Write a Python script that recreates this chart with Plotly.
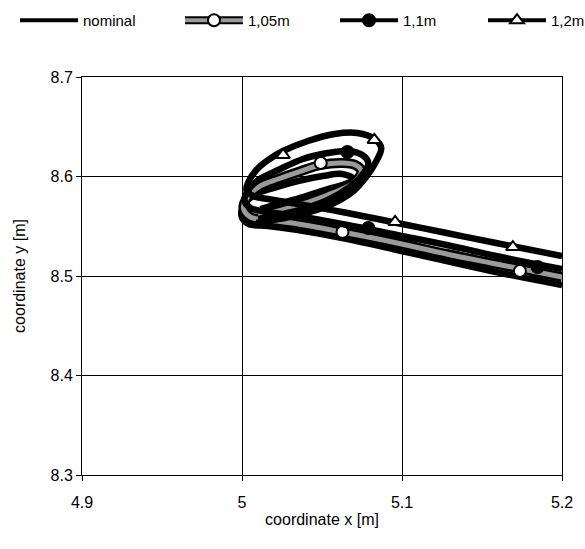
import plotly.graph_objects as go

# Wheel trajectories for different settings (x, y in metres)
nominal_x = [5.2, 5.1588, 5.1279, 5.0969, 5.0659, 5.0350, 5.0164, 5.0040,
             4.9997, 5.0015, 5.0090, 5.0195, 5.0350, 5.0505, 5.0628, 5.0697,
             5.0647, 5.0536, 5.0381, 5.0226, 5.0115]
nominal_y = [8.4910, 8.5040, 8.5151, 8.5261, 8.5372, 8.5462, 8.5503, 8.5523,
             8.5603, 8.5724, 8.5824, 8.5884, 8.5955, 8.6005, 8.6025, 8.5975,
             8.5925, 8.5874, 8.5794, 8.5724, 8.5673]

m105_x = [5.2, 5.1588, 5.1279, 5.0969, 5.0659, 5.0350, 5.0164, 5.0053,
          5.0009, 5.0040, 5.0115, 5.0226, 5.0350, 5.0492, 5.0628, 5.0709, 5.0746,
          5.0703, 5.0641, 5.0536, 5.0381, 5.0226, 5.0102]
m105_y = [8.4990, 8.5121, 8.5221, 8.5332, 8.5432, 8.5523, 8.5563, 8.5593,
          8.5683, 8.5804, 8.5905, 8.5975, 8.6045, 8.6116, 8.6136, 8.6116, 8.6055,
          8.5945, 8.5884, 8.5814, 8.5724, 8.5653, 8.5603]
m105_mark_x = [5.1737, 5.0628, 5.0492]
m105_mark_y = [8.5050, 8.5442, 8.6136]

m11_x = [5.2, 5.1588, 5.1279, 5.0969, 5.0659, 5.0350, 5.0164, 5.0053,
         5.0015, 5.0040, 5.0102, 5.0226, 5.0381, 5.0536, 5.0659, 5.0752, 5.0789,
         5.0752, 5.0672, 5.0536, 5.0381, 5.0226, 5.0102]
m11_y = [8.5070, 8.5201, 8.5312, 8.5412, 8.5513, 8.5603, 8.5643, 8.5683,
         8.5764, 8.5864, 8.5965, 8.6065, 8.6176, 8.6236, 8.6256, 8.6216, 8.6136,
         8.6015, 8.5894, 8.5764, 8.5673, 8.5613, 8.5573]
m11_mark_x = [5.1848, 5.0790, 5.0659]
m11_mark_y = [8.5090, 8.5482, 8.6246]

m12_x = [5.2, 5.1588, 5.1279, 5.0969, 5.0659, 5.0350, 5.0164, 5.0071, 5.0028,
         5.0040, 5.0090, 5.0164, 5.0257, 5.0412, 5.0579, 5.0721, 5.0827, 5.0870,
         5.0833, 5.0771, 5.0690, 5.0536, 5.0350, 5.0195, 5.0090]
m12_y = [8.5201, 8.5332, 8.5432, 8.5533, 8.5633, 8.5724, 8.5774, 8.5804, 8.5864,
         8.5945, 8.6065, 8.6166, 8.6256, 8.6357, 8.6427, 8.6437, 8.6377, 8.6286,
         8.6136, 8.5985, 8.5844, 8.5704, 8.5613, 8.5563, 8.5533]
m12_mark_x = [5.1693, 5.0957, 5.0257, 5.0827]
m12_mark_y = [8.5291, 8.5543, 8.6216, 8.6367]

x_ticks = [4.9, 5.0, 5.1, 5.2]
x_tick_text = ["4.9", "5", "5.1", "5.2"]
y_ticks = [8.3, 8.4, 8.5, 8.6, 8.7]
y_tick_text = ["8.3", "8.4", "8.5", "8.6", "8.7"]

BLACK = "#000000"
GRAY = "#9a9a9a"
FONT = "Liberation Sans, Arial, sans-serif"
LW = 6.5

fig = go.Figure()

def path(x, y, color, width):
    fig.add_trace(go.Scatter(x=x, y=y, mode="lines", showlegend=False, hoverinfo="skip",
                             line=dict(color=color, width=width, shape="spline", smoothing=1.0)))

def marks(x, y, symbol, fill):
    fig.add_trace(go.Scatter(x=x, y=y, mode="markers", showlegend=False, hoverinfo="skip",
                             marker=dict(symbol=symbol, size=12, color=fill,
                                         line=dict(color=BLACK, width=2))))

def key(name, legend, color, width, symbol=None, fill=None):
    mode = "lines+markers" if symbol else "lines"
    m = dict(symbol=symbol, size=12, color=fill, line=dict(color=BLACK, width=2)) if symbol else None
    fig.add_trace(go.Scatter(x=[None], y=[None], mode=mode, name=name, legend=legend,
                             line=dict(color=color, width=width), marker=m))

# nominal
path(nominal_x, nominal_y, BLACK, LW)
# 1,05m: grey band with black edges
path(m105_x, m105_y, BLACK, 10)
path(m105_x, m105_y, GRAY, 5)
marks(m105_mark_x, m105_mark_y, "circle", "white")
# 1,1m
path(m11_x, m11_y, BLACK, LW)
marks(m11_mark_x, m11_mark_y, "circle", BLACK)
# 1,2m
path(m12_x, m12_y, BLACK, LW)
marks(m12_mark_x, m12_mark_y, "triangle-up", "white")

key("nominal", "legend", BLACK, 4)
key("", "legend2", BLACK, 8)
key("1,05m", "legend3", GRAY, 4, "circle", "white")
key("1,1m", "legend4", BLACK, 4, "circle", BLACK)
key("1,2m", "legend5", BLACK, 4, "triangle-up", "white")

W, H = 585, 549
def leg(px):
    return dict(xref="container", yref="container", x=px / W, y=1 - 4 / H,
                xanchor="left", yanchor="top", orientation="h", itemwidth=58,
                bgcolor="rgba(0,0,0,0)", borderwidth=0,
                font=dict(family=FONT, size=15, color=BLACK))

fig.update_layout(
    width=W, height=H,
    margin=dict(l=82, r=19, t=77, b=74),
    paper_bgcolor="white", plot_bgcolor="white",
    font=dict(family=FONT, size=16, color=BLACK),
    legend=leg(15), legend2=leg(180), legend3=leg(180), legend4=leg(335), legend5=leg(483),
    xaxis=dict(range=[4.9, 5.2], tickvals=x_ticks, ticktext=x_tick_text,
               showgrid=True, gridcolor=BLACK, gridwidth=1, zeroline=False,
               showline=True, linecolor=BLACK, linewidth=1, mirror=True,
               ticks="outside", ticklen=5, tickcolor=BLACK, tickfont=dict(size=16),
               ticklabelstandoff=8,
               title=dict(text="coordinate x [m]", standoff=3, font=dict(size=16))),
    yaxis=dict(range=[8.3, 8.7], tickvals=y_ticks, ticktext=y_tick_text,
               showgrid=True, gridcolor=BLACK, gridwidth=1, zeroline=False,
               showline=True, linecolor=BLACK, linewidth=1, mirror=True,
               ticks="outside", ticklen=5, tickcolor=BLACK, tickfont=dict(size=16),
               title=dict(text="coordinate y [m]", standoff=20, font=dict(size=16))),
)

fig.write_html("out.html")
